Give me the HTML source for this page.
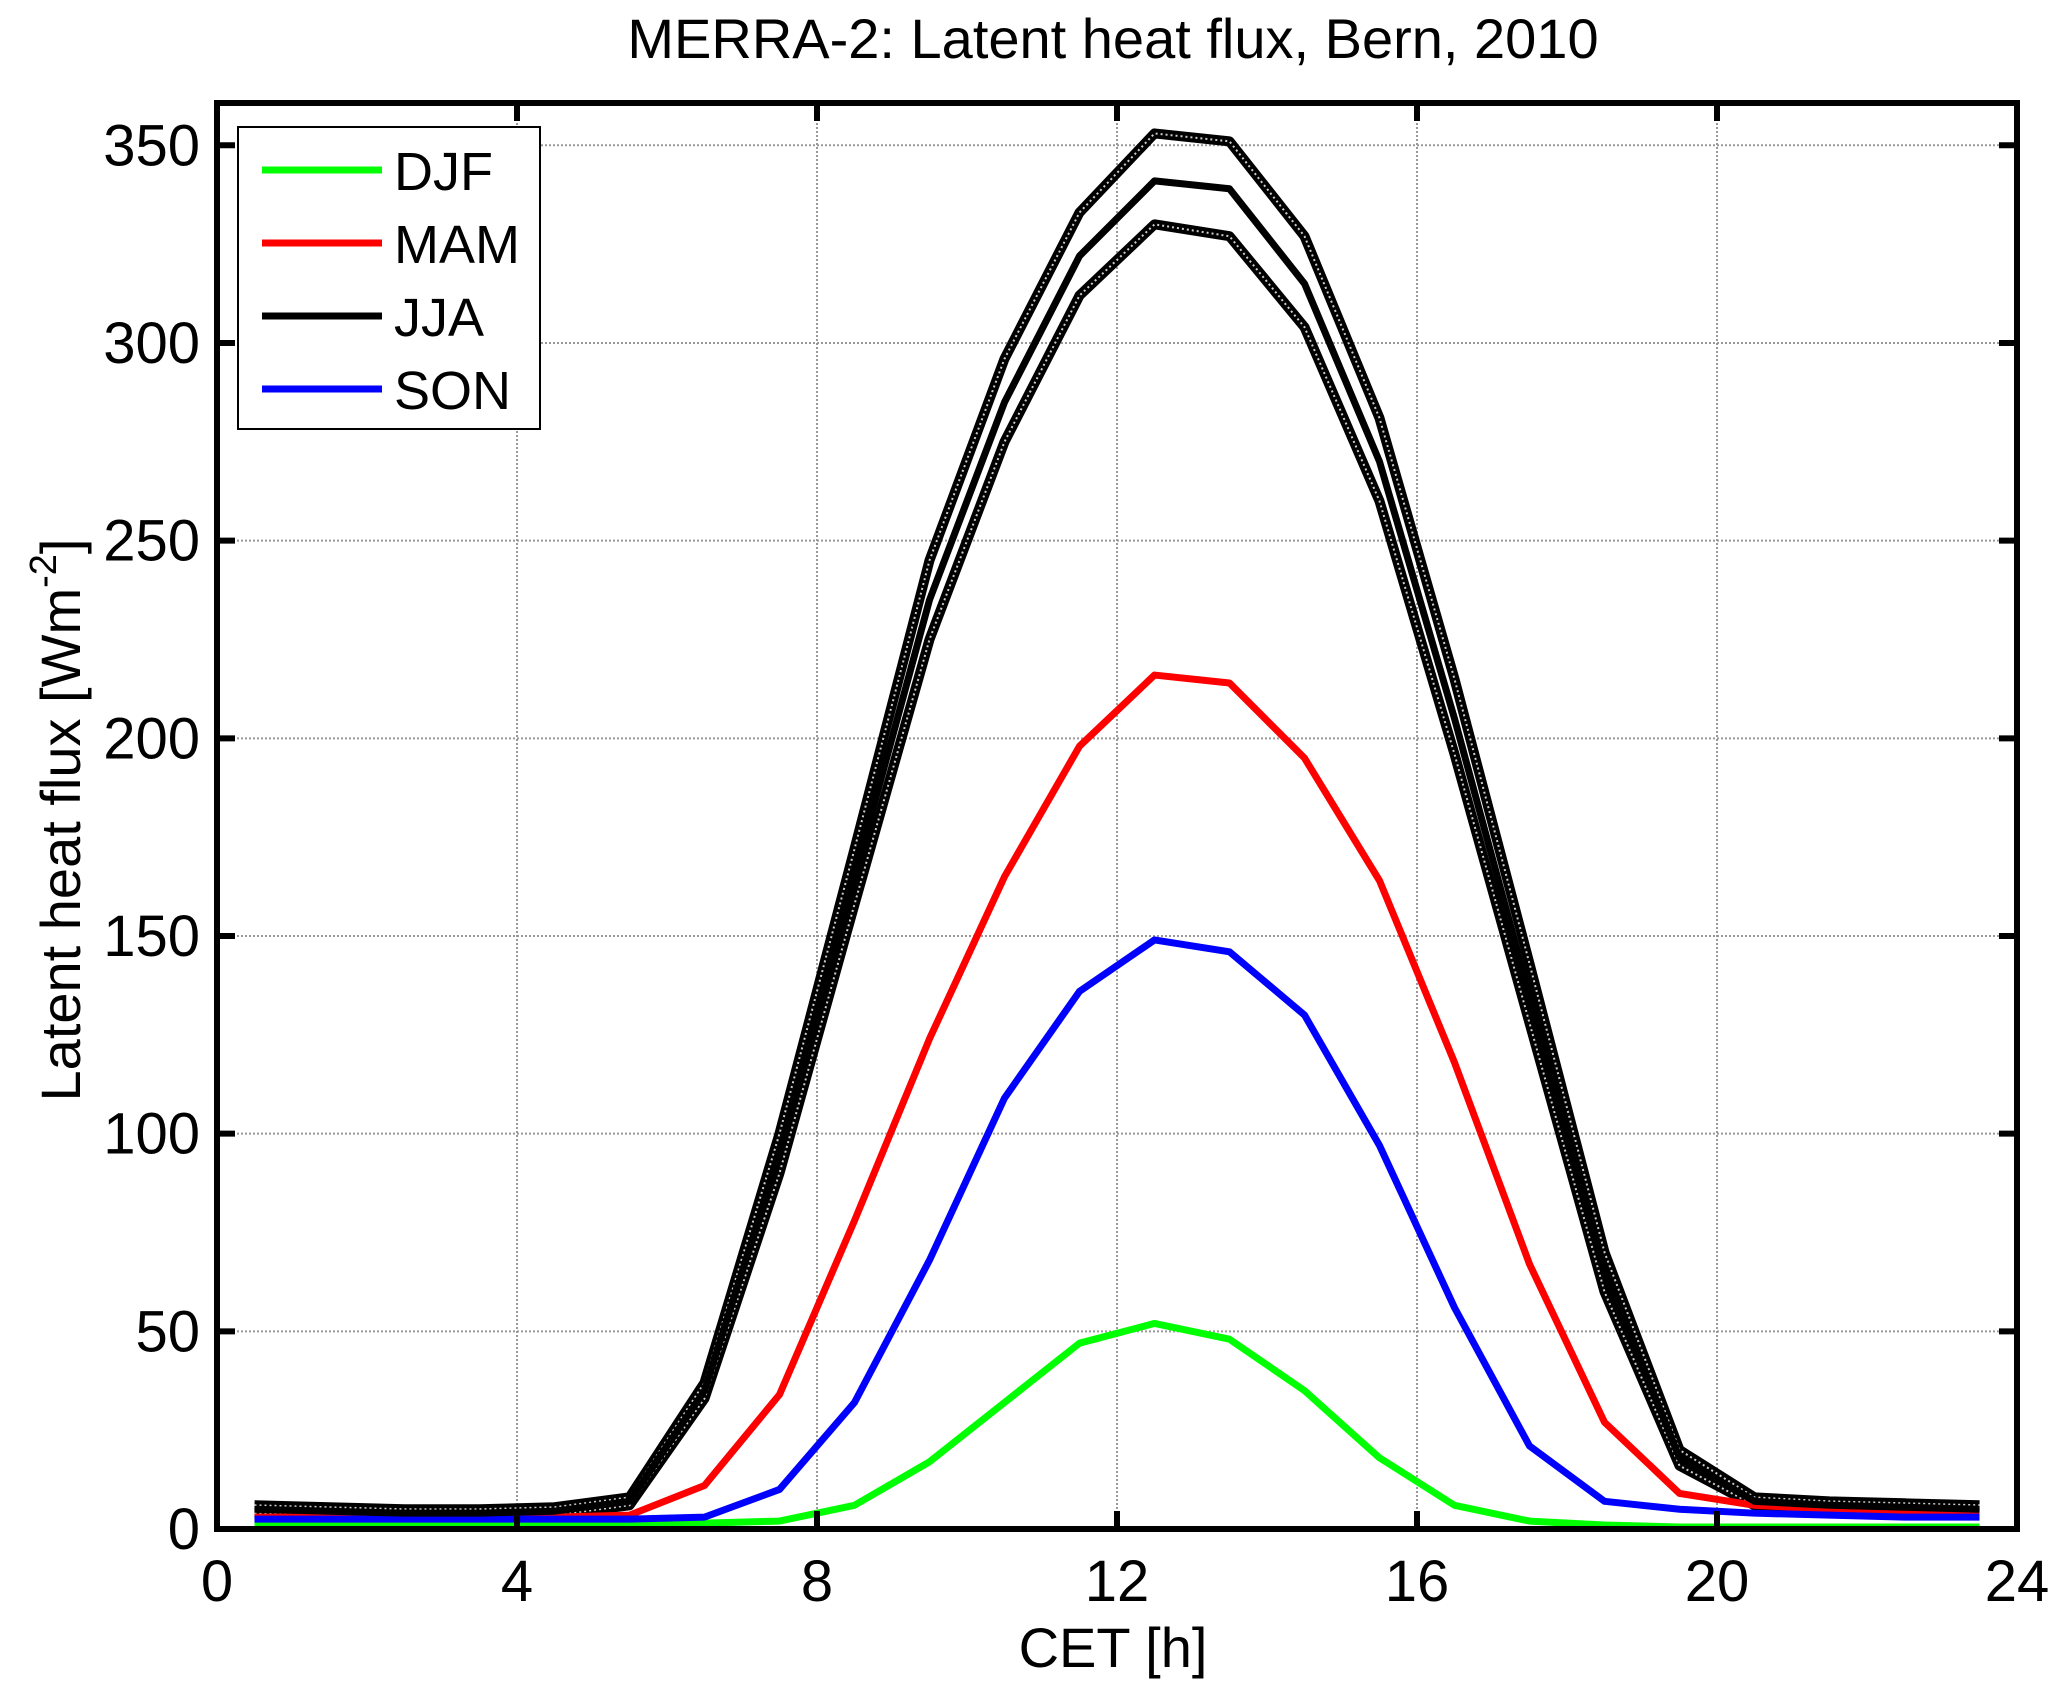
<!DOCTYPE html>
<html><head><meta charset="utf-8"><style>body{margin:0;background:#fff}svg{display:block}text{font-family:"Liberation Sans",Arial,sans-serif;fill:#000}</style></head>
<body>
<svg id="chart" width="2067" height="1700" viewBox="0 0 2067 1700" xmlns="http://www.w3.org/2000/svg">
<text x="1113" y="58" font-size="56" text-anchor="middle">MERRA-2: Latent heat flux, Bern, 2010</text>
<g id="grid"></g><g id="series"></g><g id="axes"></g>
<text x="1113" y="1667" font-size="56" text-anchor="middle">CET [h]</text>
<text transform="translate(80,820) rotate(-90)" font-size="56" text-anchor="middle">Latent heat flux [Wm<tspan dy="-24" font-size="38">-2</tspan><tspan dy="24">]</tspan></text>
<g>
<rect x="238" y="127" width="302" height="302" fill="#fff" stroke="#000" stroke-width="2"/>
<line x1="262" y1="170" x2="382" y2="170" stroke="#00ff00" stroke-width="7"/><text x="394" y="190" font-size="54">DJF</text>
<line x1="262" y1="243" x2="382" y2="243" stroke="#ff0000" stroke-width="7"/><text x="394" y="263" font-size="54">MAM</text>
<line x1="262" y1="316" x2="382" y2="316" stroke="#000" stroke-width="7"/><text x="394" y="336" font-size="54">JJA</text>
<line x1="262" y1="389" x2="382" y2="389" stroke="#0000ff" stroke-width="7"/><text x="394" y="409" font-size="54">SON</text>
</g>
</svg>
<script>
const hours=[0.5,1.5,2.5,3.5,4.5,5.5,6.5,7.5,8.5,9.5,10.5,11.5,12.5,13.5,14.5,15.5,16.5,17.5,18.5,19.5,20.5,21.5,22.5,23.5];
const djf=[1.5,1.5,1.5,1.5,1.5,1.5,1.5,2,6,17,32,47,52,48,35,18,6,2,1,0.5,0.5,0.5,0.5,0.5];
const mam=[3,3,3,3,3,3.5,11,34,78,124,165,198,216,214,195,164,118,67,27,9,6,5,4.5,4];
const jja=[5,4.5,4,4,4.5,7,35,95,165,235,285,322,341,339,315,270,205,135,65,18,7,6,5.5,5];
const jjaUpper=[6,5.5,5,5,5.5,8,37,100,172,245,296,333,353,351,327,281,215,143,70,20,8,7,6.5,6];
const jjaLower=[4,3.5,3,3,3.5,6,33,90,158,225,275,312,330,327,304,260,196,128,60,16,6,5,4.5,4];
const son=[2.5,2.5,2.5,2.5,2.5,2.5,3,10,32,68,109,136,149,146,130,97,56,21,7,5,4,3.5,3,3];
const xTicks=[0,4,8,12,16,20,24];
const yTicks=[0,50,100,150,200,250,300,350];
const L=217,R=2017,T=103,B=1529,XMAX=24,YMAX=360.7;
const X=v=>L+(R-L)*v/XMAX, Y=v=>B-(B-T)*v/YMAX;
const NS='http://www.w3.org/2000/svg';
function mk(tag,parent,attrs){const e=document.createElementNS(NS,tag);for(const k in attrs)e.setAttribute(k,attrs[k]);document.getElementById(parent).appendChild(e);return e;}
xTicks.forEach(t=>{
 if(t>0&&t<24){const g=mk('line','grid',{x1:X(t),x2:X(t),y1:T,y2:B,stroke:'#999','stroke-width':2,'stroke-dasharray':'2,2'});
 
 }
 mk('line','axes',{x1:X(t),x2:X(t),y1:B,y2:B-18,stroke:'#000','stroke-width':6});
 mk('line','axes',{x1:X(t),x2:X(t),y1:T,y2:T+18,stroke:'#000','stroke-width':6});
 const tx=mk('text','axes',{x:X(t),y:1601,'font-size':58,'text-anchor':'middle'});tx.textContent=t;
 
 
});
yTicks.forEach(t=>{
 if(t>0){const g=mk('line','grid',{x1:L,x2:R,y1:Y(t),y2:Y(t),stroke:'#999','stroke-width':2,'stroke-dasharray':'2,2'});
 
 }
 mk('line','axes',{x1:L,x2:L+18,y1:Y(t),y2:Y(t),stroke:'#000','stroke-width':6});
 mk('line','axes',{x1:R,x2:R-18,y1:Y(t),y2:Y(t),stroke:'#000','stroke-width':6});
 const tx=mk('text','axes',{x:200,y:Y(t)+20,'font-size':58,'text-anchor':'end'});tx.textContent=t;
 
 
});
const fr=mk('rect','axes',{x:L,y:T,width:R-L,height:B-T,fill:'none',stroke:'#000','stroke-width':6});


function pts(a){return a.map((v,i)=>X(hours[i])+','+Y(v)).join(' ');}
[[jjaUpper,'jja-upper-bound'],[jjaLower,'jja-lower-bound']].forEach(([d,n])=>{
 const a=mk('polyline','series',{points:pts(d),fill:'none',stroke:'#000','stroke-width':10,'stroke-linejoin':'round'});
 
 
 mk('polyline','series',{points:pts(d),fill:'none',stroke:'#ccc','stroke-width':2,'stroke-dasharray':'2,3'});
});
[[djf,'#00ff00','djf-line'],[mam,'#ff0000','mam-line'],[son,'#0000ff','son-line'],[jja,'#000','jja-line']].forEach(([d,c,n])=>{
 const p=mk('polyline','series',{points:pts(d),fill:'none',stroke:c,'stroke-width':7,'stroke-linejoin':'round'});
 
 
});
</script>
</body></html>
